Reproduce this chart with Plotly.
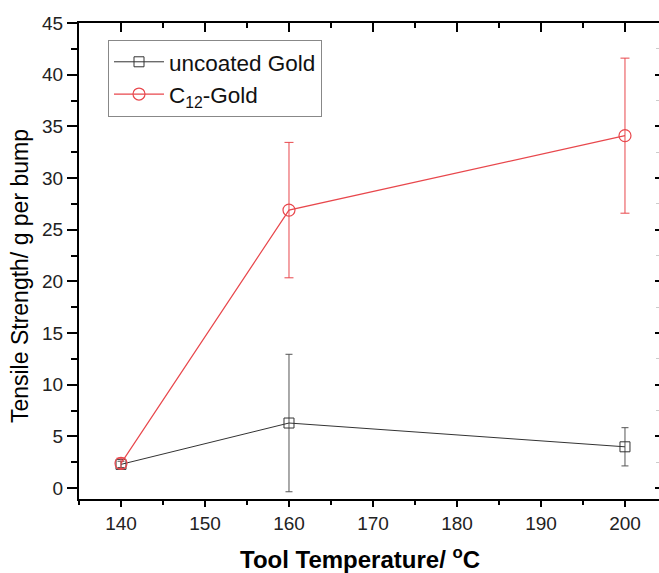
import plotly.graph_objects as go

# Data
temperature = [140, 160, 200]
uncoated_strength = [2.3, 6.3, 4.0]
uncoated_err = [0.3, 6.65, 1.85]
c12_strength = [2.4, 26.9, 34.1]
c12_err = [0.5, 6.55, 7.5]

x_ticks = [140, 150, 160, 170, 180, 190, 200]
y_ticks = [0, 5, 10, 15, 20, 25, 30, 35, 40, 45]

RED = "#e8474c"
BLACK = "#333333"
FONT = "Liberation Sans, Arial, sans-serif"

fig = go.Figure()

fig.add_trace(go.Scatter(
    x=temperature, y=uncoated_strength,
    error_y=dict(type="data", array=uncoated_err, visible=True,
                 color="#555555", thickness=1, width=3.5),
    mode="lines+markers", name="uncoated Gold",
    line=dict(color=BLACK, width=1),
    marker=dict(symbol="square-open", size=10, color=BLACK, line=dict(width=1)),
))

fig.add_trace(go.Scatter(
    x=temperature, y=c12_strength,
    error_y=dict(type="data", array=c12_err, visible=True,
                 color=RED, thickness=1, width=4.5),
    mode="lines+markers", name="C<sub>12</sub>-Gold",
    line=dict(color=RED, width=1.2),
    marker=dict(symbol="circle-open", size=12, color=RED, line=dict(width=1.2)),
))

# empty helper trace so mirrored top/right axes get drawn
fig.add_trace(go.Scatter(x=[], y=[], xaxis="x2", yaxis="y2",
                         showlegend=False, hoverinfo="skip"))

x_range = [135, 204.05]
y_range = [-1.05, 45]

fig.update_layout(
    width=659, height=573,
    margin=dict(l=79, r=0, t=23, b=74),
    paper_bgcolor="white", plot_bgcolor="white",
    font=dict(family=FONT, color="#111111"),
    showlegend=True,
    legend=dict(
        x=0.05, y=0.965, xanchor="left", yanchor="top",
        bordercolor="#888888", borderwidth=1, bgcolor="white",
        font=dict(size=22.5, family=FONT, color="#111111"),
        itemwidth=50, tracegroupgap=0,
    ),
    xaxis=dict(
        range=x_range, tickvals=x_ticks, ticktext=[str(v) for v in x_ticks],
        ticks="outside", ticklen=6, tickwidth=2, tickcolor="black",
        showline=True, linewidth=2, linecolor="black",
        showgrid=False, zeroline=False,
        tickfont=dict(size=19, family=FONT, color="#222222"),
        minor=dict(ticks="outside", ticklen=4, tickwidth=2, tickcolor="black",
                   dtick=5, tick0=135, showgrid=False),
    ),
    xaxis2=dict(
        range=x_range, overlaying="x", side="top", anchor="y",
        tickvals=x_ticks, showticklabels=False,
        ticks="inside", ticklen=9, tickwidth=2, tickcolor="black",
        showline=True, linewidth=2, linecolor="black",
        showgrid=False, zeroline=False,
        minor=dict(ticks="inside", ticklen=5, tickwidth=2, tickcolor="black",
                   dtick=5, tick0=135, showgrid=False),
    ),
    yaxis=dict(
        range=y_range, tickvals=y_ticks, ticktext=[str(v) for v in y_ticks],
        ticks="outside", ticklen=10, tickwidth=2, tickcolor="black",
        showline=True, linewidth=2, linecolor="black",
        showgrid=False, zeroline=False,
        tickfont=dict(size=19, family=FONT, color="#222222"),
        minor=dict(ticks="outside", ticklen=6, tickwidth=2, tickcolor="black",
                   dtick=2.5, tick0=0, showgrid=False),
    ),
    yaxis2=dict(
        range=y_range, overlaying="y", side="right", anchor="x",
        tickvals=y_ticks, showticklabels=False,
        ticks="inside", ticklen=4, tickwidth=2, tickcolor="black",
        showline=False, showgrid=False, zeroline=False,
        minor=dict(ticks="inside", ticklen=3, tickwidth=1, tickcolor="#cccccc",
                   dtick=2.5, tick0=0, showgrid=False),
    ),
    annotations=[
        dict(text="Tensile Strength/ g per bump", textangle=-90,
             xref="paper", yref="paper", x=-0.102, y=0.468,
             xanchor="center", yanchor="middle", showarrow=False,
             font=dict(size=23, family=FONT, color="black")),
        dict(text="<b>Tool Temperature/ <sup>o</sup>C</b>",
             xref="paper", yref="paper", x=0.485, y=-0.123,
             xanchor="center", yanchor="middle", showarrow=False,
             font=dict(size=24, family=FONT, color="black")),
    ],
)

fig.write_html("out.html")
